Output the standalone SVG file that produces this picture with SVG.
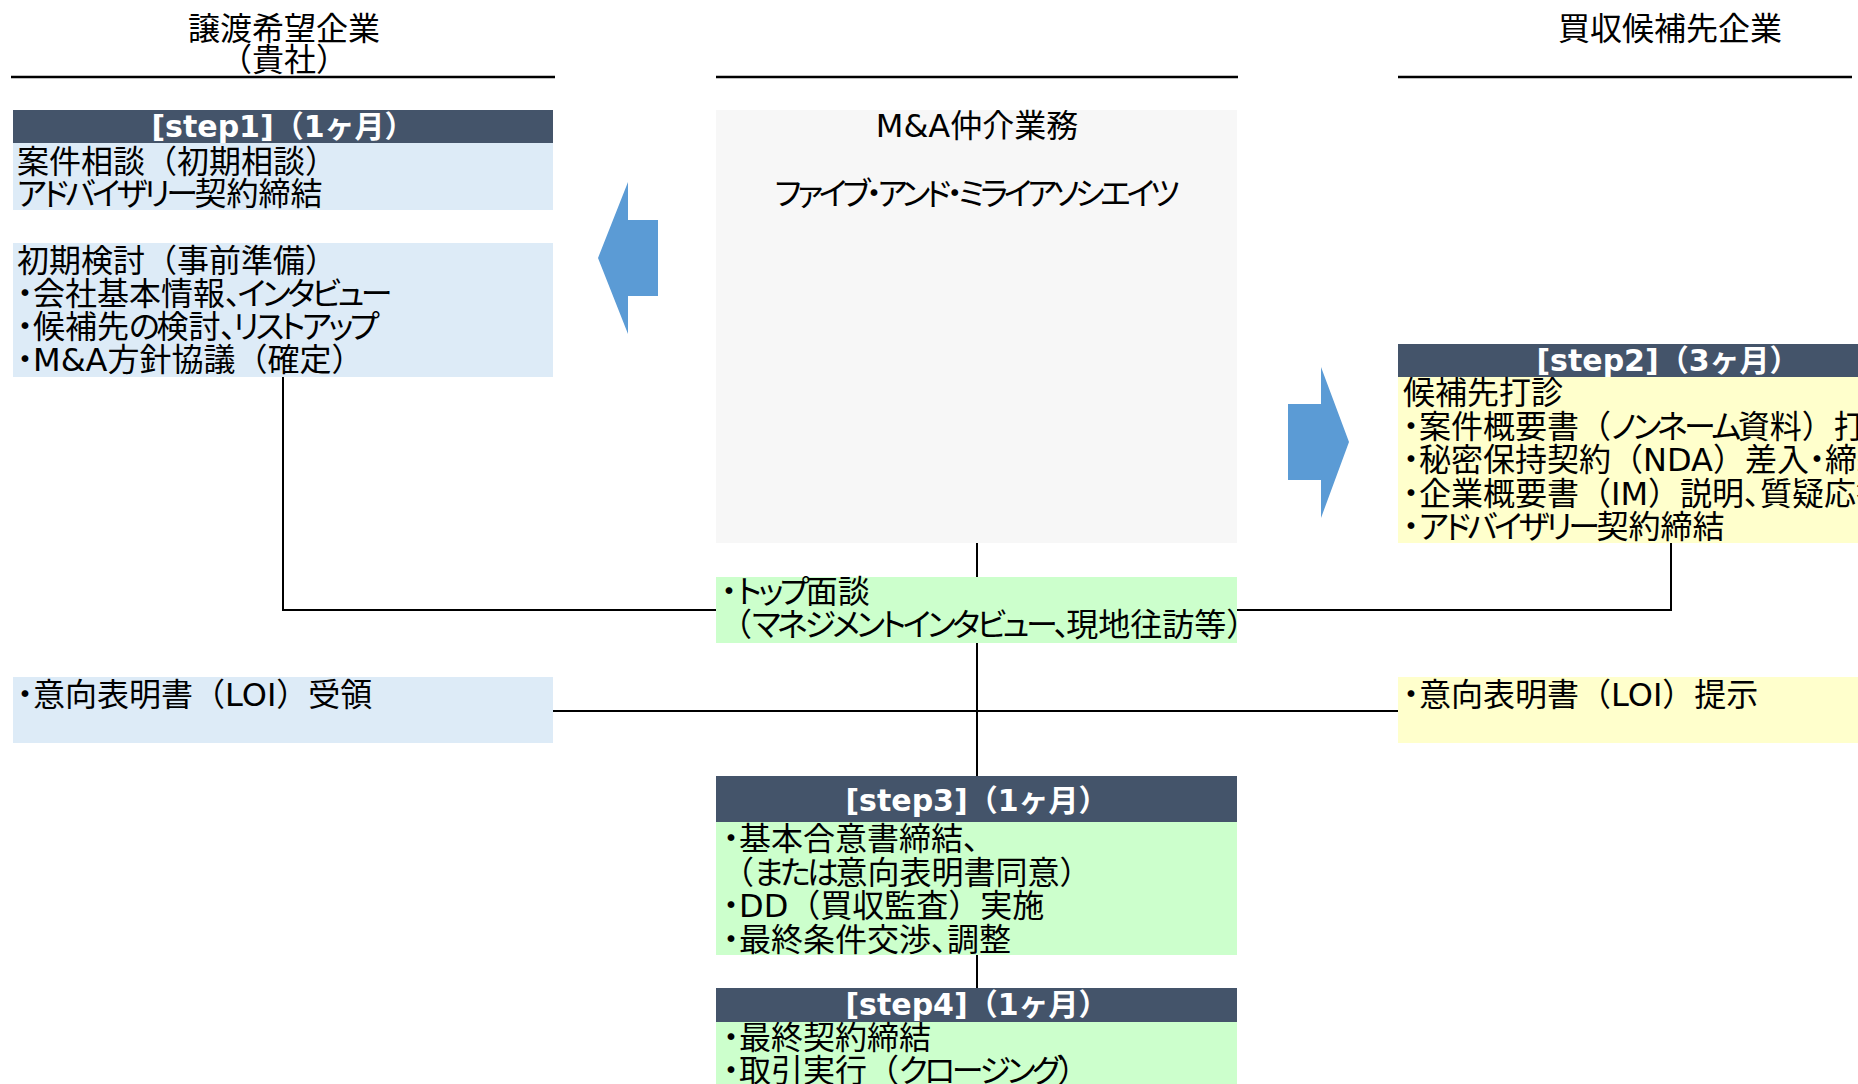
<svg xmlns="http://www.w3.org/2000/svg" width="1858" height="1084" viewBox="0 0 1858 1084">
<style>
text{font-family:"DejaVu Sans","Noto Sans CJK JP",sans-serif;fill:#000}
.h{font-size:32px;text-anchor:middle}
.b{font-size:32px}
.c{text-anchor:middle}
.s{font-size:30px;font-weight:bold;fill:#fff;text-anchor:middle}
.p{font-feature-settings:"palt"}
.k{font-feature-settings:"palt";letter-spacing:-3.5px}
.kk{font-feature-settings:"palt";letter-spacing:-4.4px}
.bar{fill:#44546A}
.blue{fill:#DDEBF7}
.yel{fill:#FFFFCC}
.grn{fill:#CCFFCC}
.grey{fill:#F7F7F7}
.arw{fill:#5B9BD5}
.hl{stroke:#000;stroke-width:2.5;fill:none}
.cn{stroke:#000;stroke-width:2;fill:none}
</style>
<g id="headers">
<text class="h" x="284" y="40">譲渡希望企業</text>
<text class="h" x="284" y="71">（貴社）</text>
<text class="h" x="1670" y="40">買収候補先企業</text>
<line class="hl" x1="11" y1="77" x2="555" y2="77"/>
<line class="hl" x1="716" y1="77" x2="1238" y2="77"/>
<line class="hl" x1="1398" y1="77" x2="1852" y2="77"/>
</g>
<g id="connectors">
<path class="cn" d="M283,377 V610 H716"/>
<path class="cn" d="M1671,543 V610 H1237"/>
<path class="cn" d="M553,711 H1398"/>
<path class="cn" d="M977,543 V577 M977,643 V776 M977,955 V988"/>
</g>
<g id="step1">
<rect class="bar" x="13" y="110" width="540" height="33"/>
<text class="s" x="283" y="137">[step1]（1ヶ月）</text>
<rect class="blue" x="13" y="143" width="540" height="67"/>
<text class="b" x="17" y="173">案件相談（初期相談）</text>
<text class="b" x="17" y="205"><tspan class="k">アドバイザリー</tspan>契約締結</text>
</g>
<g id="prep">
<rect class="blue" x="13" y="243" width="540" height="134"/>
<text class="b" x="17" y="272">初期検討（事前準備）</text>
<text class="b" x="17" y="305"><tspan class="p">・</tspan>会社基本情報<tspan class="k">、インタビュー</tspan></text>
<text class="b" x="17" y="338"><tspan class="p">・</tspan>候補先<tspan class="k">の</tspan>検討<tspan class="k">、リストアップ</tspan></text>
<text class="b" x="17" y="371"><tspan class="p">・</tspan>M&amp;A方針協議（確定）</text>
</g>
<g id="arrow-left">
<polygon class="arw" points="598,258 628,182 628,220 658,220 658,296 628,296 628,334"/>
</g>
<g id="broker">
<rect class="grey" x="716" y="110" width="521" height="433"/>
<text class="b c" x="977" y="137">M&amp;A仲介業務</text>
<text class="b c kk" x="975" y="205">ファイブ・アンド・ミライアソシエイツ</text>
</g>
<g id="arrow-right">
<polygon class="arw" points="1288,404 1321,404 1321,367 1349,442 1321,518 1321,480 1288,480"/>
</g>
<g id="step2">
<rect class="bar" x="1398" y="344" width="540" height="33"/>
<text class="s" x="1668" y="371">[step2]（3ヶ月）</text>
<rect class="yel" x="1398" y="377" width="540" height="166"/>
<text class="b" x="1403" y="404">候補先打診</text>
<text class="b" x="1403" y="438"><tspan class="p">・</tspan>案件概要書（<tspan class="k">ノンネーム</tspan>資料）打診</text>
<text class="b" x="1403" y="471"><tspan class="p">・</tspan>秘密保持契約（NDA）差入<tspan class="p">・</tspan>締結</text>
<text class="b" x="1403" y="505"><tspan class="p">・</tspan>企業概要書（IM）説明<tspan class="p">、</tspan>質疑応答</text>
<text class="b" x="1403" y="538"><tspan class="p">・</tspan><tspan class="k">アドバイザリー</tspan>契約締結</text>
</g>
<g id="top-meeting">
<rect class="grn" x="716" y="577" width="521" height="66"/>
<text class="b" x="721" y="603"><tspan class="p">・</tspan><tspan class="k">トップ</tspan>面談</text>
<text class="b" x="720" y="636">（<tspan class="k">マネジメントインタビュー、</tspan>現地往訪等）</text>
</g>
<g id="loi-left">
<rect class="blue" x="13" y="677" width="540" height="66"/>
<text class="b" x="17" y="706"><tspan class="p">・</tspan>意向表明書（LOI）受領</text>
</g>
<g id="loi-right">
<rect class="yel" x="1398" y="677" width="540" height="66"/>
<text class="b" x="1403" y="706"><tspan class="p">・</tspan>意向表明書（LOI）提示</text>
</g>
<g id="step3">
<rect class="bar" x="716" y="776" width="521" height="46"/>
<text class="s" x="977" y="811">[step3]（1ヶ月）</text>
<rect class="grn" x="716" y="822" width="521" height="133"/>
<text class="b" x="723" y="850"><tspan class="p">・</tspan>基本合意書締結<tspan class="p">、</tspan></text>
<text class="b" x="722" y="884">（<tspan class="k">または</tspan>意向表明書同意）</text>
<text class="b" x="723" y="917"><tspan class="p">・</tspan>DD（買収監査）実施</text>
<text class="b" x="723" y="951"><tspan class="p">・</tspan>最終条件交渉<tspan class="p">、</tspan>調整</text>
</g>
<g id="step4">
<rect class="bar" x="716" y="988" width="521" height="34"/>
<text class="s" x="977" y="1015">[step4]（1ヶ月）</text>
<rect class="grn" x="716" y="1022" width="521" height="80"/>
<text class="b" x="723" y="1049"><tspan class="p">・</tspan>最終契約締結</text>
<text class="b" x="723" y="1082"><tspan class="p">・</tspan>取引実行（<tspan class="k">クロージング</tspan>）</text>
</g>
</svg>
